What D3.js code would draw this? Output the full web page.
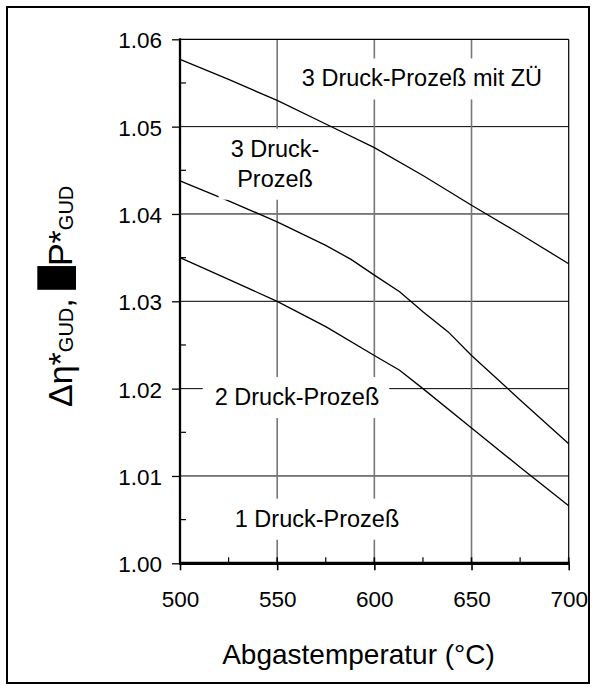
<!DOCTYPE html>
<html>
<head>
<meta charset="utf-8">
<script src="https://cdn.jsdelivr.net/npm/d3@7"></script>
<style>
  html, body { margin: 0; padding: 0; background: #fff; }
  svg { display: block; font-family: "Liberation Sans", Arial, sans-serif; }
</style>
</head>
<body>
<svg id="chart" width="597" height="688"></svg>
<script>
// ---- Data ----
const xTicks = [500, 550, 600, 650, 700];
const yTicks = [1.00, 1.01, 1.02, 1.03, 1.04, 1.05, 1.06];
const xMinor = [525, 575, 625, 675];
const yMinor = [1.005, 1.015, 1.025, 1.035, 1.045, 1.055];

const seriesA_T = [500, 525, 550, 575, 600, 625, 650, 675, 700];
const seriesA_V = [1.0577, 1.0554, 1.0530, 1.0503, 1.0476, 1.0444, 1.0410, 1.0377, 1.0343];
const seriesB_T = [500, 525, 550, 575, 588, 600, 613, 625, 638, 650, 675, 700];
const seriesB_V = [1.0438, 1.0415, 1.0391, 1.0364, 1.0348, 1.0330, 1.0311, 1.0288, 1.0265, 1.0238, 1.0187, 1.0137];
const seriesC_T = [500, 525, 550, 575, 600, 613, 625, 650, 675, 700];
const seriesC_V = [1.0350, 1.0325, 1.0300, 1.0271, 1.0238, 1.0221, 1.0200, 1.0155, 1.0110, 1.0066];

const labelA = ["3 Druck-Prozeß mit ZÜ"];
const labelB = ["3 Druck-", "Prozeß"];
const labelC = ["2 Druck-Prozeß"];
const labelD = ["1 Druck-Prozeß"];

const xTitle = "Abgastemperatur (°C)";

// ---- Layout ----
const svg = d3.select("#chart");
const L = 180, R = 568.7, T = 39.3, B = 563.3;
const x = d3.scaleLinear().domain([500, 700]).range([L, R]);
const y = d3.scaleLinear().domain([1.00, 1.06]).range([B, T]);

svg.append("rect").attr("width", 597).attr("height", 688).attr("fill", "#fff");

// outer frame
svg.append("rect").attr("x", 7).attr("y", 7).attr("width", 582).attr("height", 676)
  .attr("fill", "none").attr("stroke", "#000").attr("stroke-width", 2);

// gridlines
const grid = svg.append("g");
grid.selectAll("line.h").data(yTicks.filter(v => v > 1.0 && v < 1.06)).join("line")
  .attr("x1", L).attr("x2", R).attr("y1", d => y(d)).attr("y2", d => y(d))
  .attr("stroke", "#000").attr("stroke-width", 1);
grid.selectAll("line.v").data(xTicks.filter(v => v > 500 && v < 700)).join("line")
  .attr("x1", d => x(d)).attr("x2", d => x(d)).attr("y1", T).attr("y2", B)
  .attr("stroke", "#777").attr("stroke-width", 1.6);

// curves
const line = d3.line().x(d => x(d[0])).y(d => y(d[1]));
const series = [
  d3.zip(seriesA_T, seriesA_V),
  d3.zip(seriesB_T, seriesB_V),
  d3.zip(seriesC_T, seriesC_V)
];
svg.append("g").selectAll("path").data(series).join("path")
  .attr("d", line).attr("fill", "none").attr("stroke", "#000").attr("stroke-width", 1.3);

// labels with white background boxes
const labelLayer = svg.append("g");
function addLabel(lines, t, v, fs) {
  const g = labelLayer.append("g");
  const bg = g.append("rect").attr("fill", "#fff");
  const cx = x(t), by = y(v);
  const txt = g.append("text").attr("text-anchor", "middle").attr("font-size", fs).attr("fill", "#000");
  lines.forEach((s, i) => {
    txt.append("tspan").attr("x", cx).attr("y", by + i * 30).text(s);
  });
  const bb = txt.node().getBBox();
  bg.attr("x", bb.x - 12).attr("width", bb.width + 22)
    .attr("y", by - 28).attr("height", (lines.length - 1) * 30 + 41);
}
addLabel(labelA, 624.5, 1.0546, 23.5);
addLabel(labelB, 548.9, 1.04656, 23.5);
addLabel(labelC, 560.2, 1.01812, 23.5);
addLabel(labelD, 570.5, 1.00419, 23.5);

// plot border: top and right thin
svg.append("line").attr("x1", L).attr("x2", R).attr("y1", T).attr("y2", T).attr("stroke", "#000").attr("stroke-width", 1.2);
svg.append("line").attr("x1", R).attr("x2", R).attr("y1", T).attr("y2", B).attr("stroke", "#000").attr("stroke-width", 1.2);

// minor ticks
svg.append("g").selectAll("line").data(yMinor).join("line")
  .attr("x1", L).attr("x2", L + 6).attr("y1", d => y(d)).attr("y2", d => y(d))
  .attr("stroke", "#000").attr("stroke-width", 1.2);
svg.append("g").selectAll("line").data(xMinor).join("line")
  .attr("x1", d => x(d)).attr("x2", d => x(d)).attr("y1", B).attr("y2", B - 6)
  .attr("stroke", "#000").attr("stroke-width", 1.2);
// inner part of major x ticks
svg.append("g").selectAll("line").data(xTicks).join("line")
  .attr("x1", d => x(d)).attr("x2", d => x(d)).attr("y1", B).attr("y2", B - 6)
  .attr("stroke", "#000").attr("stroke-width", 1.6);

// axes
const fmt = d3.format(".2f");
const yAxis = svg.append("g").attr("transform", `translate(${L},0)`)
  .call(d3.axisLeft(y).tickValues(yTicks).tickSize(8).tickPadding(10).tickFormat(fmt));
yAxis.select(".domain").remove();
yAxis.selectAll("text").attr("font-size", 22.5).attr("font-family", "Liberation Sans, Arial, sans-serif")
  .attr("fill", "#000").attr("dy", "0.38em");
yAxis.selectAll(".tick line").attr("stroke", "#000").attr("stroke-width", 1.3);

const xAxis = svg.append("g").attr("transform", `translate(0,${B})`)
  .call(d3.axisBottom(x).tickValues(xTicks).tickSize(7).tickPadding(21).tickFormat(d3.format("d")));
xAxis.select(".domain").remove();
xAxis.selectAll("text").attr("font-size", 22.5).attr("font-family", "Liberation Sans, Arial, sans-serif")
  .attr("fill", "#000");
xAxis.selectAll(".tick line").attr("stroke", "#000").attr("stroke-width", 1.6);

// thick axis lines
svg.append("line").attr("x1", L).attr("x2", L).attr("y1", T - 1).attr("y2", B + 1)
  .attr("stroke", "#000").attr("stroke-width", 2.3);
svg.append("line").attr("x1", L - 1).attr("x2", R + 1).attr("y1", B).attr("y2", B)
  .attr("stroke", "#000").attr("stroke-width", 3.2);

// x title
svg.append("text").attr("x", 358.5).attr("y", 663.5).attr("text-anchor", "middle")
  .attr("font-size", 28).attr("fill", "#000").text(xTitle);

// y title (rotated)
const yg = svg.append("g").attr("transform", "translate(72,407) rotate(-90)");
const yt = yg.append("text").attr("x", 0).attr("y", 0).attr("font-size", 34).attr("fill", "#000");
yt.append("tspan").text("Δη*");
yt.append("tspan").attr("font-size", 20).attr("dy", 1).text("GUD");
yt.append("tspan").attr("dy", -1).text(", ");
const boxIdx = "Δη*GUD, ".length;
yt.append("tspan").text("ΔP*");
yt.append("tspan").attr("font-size", 20).attr("dy", 1).text("GUD");
const ext = yt.node().getExtentOfChar(boxIdx);
yg.append("rect").attr("x", ext.x - 1).attr("width", ext.width + 1)
  .attr("y", -34.7).attr("height", 38.7).attr("fill", "#000");
</script>
</body>
</html>
